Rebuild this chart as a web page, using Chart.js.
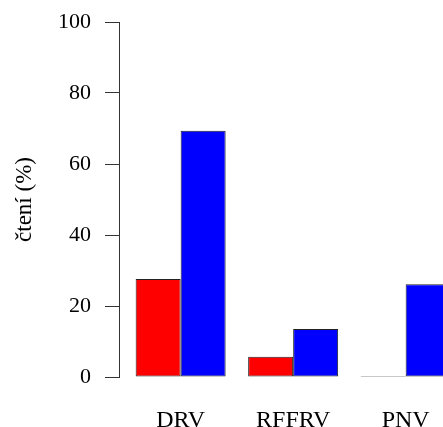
<!DOCTYPE html>
<html>
<head>
<meta charset="utf-8">
<script src="https://cdn.jsdelivr.net/npm/chart.js@4/dist/chart.umd.min.js"></script>
<style>
  html, body { margin: 0; padding: 0; background: #fff; overflow: hidden; }
  #wrap { width: 443px; height: 427px; overflow: hidden; position: relative; }
  canvas { display: block; }
</style>
</head>
<body>
<div id="wrap"><canvas id="c" width="443" height="434" style="width:443px;height:434px"></canvas></div>
<script>
// ---- data ----
const categories = ['DRV', 'RFFRV', 'PNV'];
const redValues  = [27.6, 5.7, 0];
const blueValues = [69.4, 13.5, 26.1];
const yTicks = [0, 20, 40, 60, 80, 100];
const yTitle = 'čtení (%)';

const FONT = "'Liberation Serif', 'Times New Roman', serif";

function toPoints(vals) { return vals.map((v, i) => ({ x: i, y: v })); }

new Chart(document.getElementById('c'), {
  type: 'bar',
  data: {
    datasets: [
      { data: toPoints(redValues), backgroundColor: '#FF0000', borderColor: '#222222',
        borderWidth: 1, borderSkipped: false, minBarLength: 1 },
      { data: toPoints(blueValues), backgroundColor: '#0000FF', borderColor: '#222222',
        borderWidth: 1, borderSkipped: false, minBarLength: 1 }
    ]
  },
  options: {
    responsive: false,
    maintainAspectRatio: false,
    animation: false,
    devicePixelRatio: 1,
    categoryPercentage: 0.8,
    barPercentage: 1.0,
    layout: { padding: { left: 0, right: 0, top: 22, bottom: 0 } },
    plugins: { legend: { display: false }, tooltip: { enabled: false }, title: { display: false } },
    scales: {
      x: {
        type: 'linear',
        offset: false,
        min: -0.548,
        max: 2.332,
        afterFit: (s) => { s.height = 57; s.paddingTop = 0; s.paddingBottom = 0; s.paddingLeft = 0; s.paddingRight = 0; },
        grid: { display: false, drawTicks: false },
        border: { display: false },
        ticks: {
          stepSize: 1,
          includeBounds: false,
          autoSkip: false,
          maxRotation: 0,
          minRotation: 0,
          padding: 29.5,
          color: '#000',
          font: { family: FONT, size: 24 },
          callback: (v) => Number.isInteger(v) && categories[v] !== undefined ? categories[v] : ''
        }
      },
      y: {
        min: 0,
        max: 100,
        afterBuildTicks: (s) => { s.ticks = yTicks.map(v => ({ value: v })); },
        afterFit: (s) => { s.width = 119; s.paddingTop = 0; s.paddingBottom = 0; },
        grid: { drawOnChartArea: false, tickLength: 14, color: '#333333', lineWidth: 1 },
        border: { display: true, color: '#333333', width: 1 },
        ticks: { padding: 14, color: '#000', font: { family: FONT, size: 22 } },
        title: {
          display: true,
          text: yTitle,
          color: '#000',
          font: { family: FONT, size: 23 },
          padding: { top: 11, bottom: 4 }
        }
      }
    }
  }
});
</script>
</body>
</html>
